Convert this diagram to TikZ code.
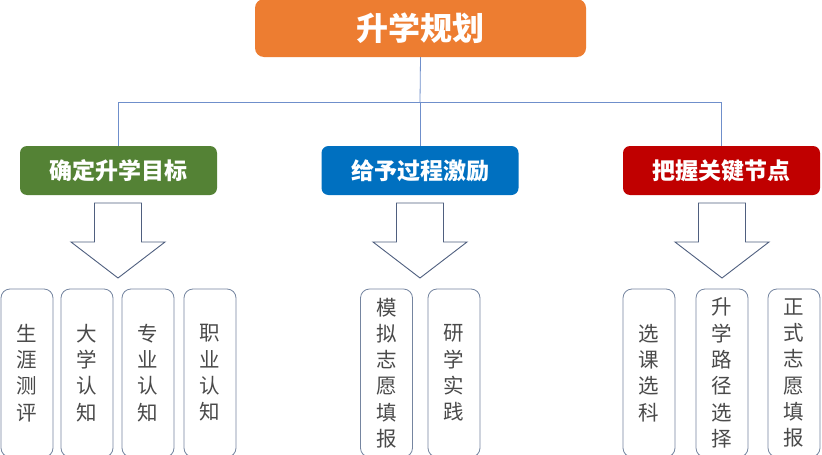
\documentclass[tikz,border=0pt]{standalone}
\usepackage{fontspec}
\setmainfont{Noto Sans CJK SC}
\definecolor{topor}{HTML}{ED7D31}
\definecolor{hgreen}{HTML}{548235}
\definecolor{hblue}{HTML}{0070C0}
\definecolor{hred}{HTML}{C00000}
\definecolor{linkc}{HTML}{6F8FCB}
\definecolor{arrc}{HTML}{4F5F7F}
\definecolor{boxc}{HTML}{7585A0}
\definecolor{txtc}{HTML}{4A4A4A}
\tikzset{
  titlebox/.style={draw=none, fill=topor, rounded corners=9pt, minimum width=331pt, minimum height=58pt, inner sep=0pt, text=white, font=\bfseries\fontsize{32pt}{35pt}\selectfont},
  headbox/.style={draw=none, fill=#1, rounded corners=7pt, minimum width=197pt, minimum height=49pt, inner sep=0pt, text=white, font=\bfseries\fontsize{23pt}{26pt}\selectfont},
  leafbox/.style={draw=boxc, line width=0.8pt, rounded corners=9pt, minimum width=52pt, minimum height=168pt, inner sep=0pt, text=txtc, align=center, font=\fontsize{20.5pt}{26.3pt}\selectfont},
  link/.style={draw=linkc, line width=0.8pt},
  bigarrow/.style={draw=arrc, fill=white, line width=0.9pt, line join=miter}
}
\newcommand{\downarrowshape}[1]{%
  \draw[bigarrow] ($(#1)+(-23.5,0)$) -- ++(0,39) -- ++(-23.5,0) -- ($(#1)+(0,75)$) -- ($(#1)+(47,39)$) -- ++(-23.5,0) -- ($(#1)+(23.5,0)$) -- cycle;}
\usetikzlibrary{calc}
\begin{document}
\begin{tikzpicture}[x=1pt,y=-1pt]
\useasboundingbox (0,0) rectangle (822,455);
\clip (0,0) rectangle (822,455);
\fill[white] (0,0) rectangle (822,455);

\node[titlebox] (top) at (420.5,28) {升学规划};

\node[headbox=hgreen] (h1) at (118.5,170.5) {确定升学目标};
\node[headbox=hblue] (h2) at (420,170.5) {给予过程激励};
\node[headbox=hred] (h3) at (721.5,170.5) {把握关键节点};

\coordinate (hub) at (420,102);
\coordinate (l1) at (118.5,102);
\coordinate (l3) at (721.5,102);
\draw[link] (top.south) -- (hub);
\draw[link] (l1) -- (l3);
\draw[link] (l1) -- (h1.north);
\draw[link] (hub) -- (h2.north);
\draw[link] (l3) -- (h3.north);

\coordinate (a1) at (118,203);
\coordinate (a2) at (420,203);
\coordinate (a3) at (722,203);
\downarrowshape{a1}
\downarrowshape{a2}
\downarrowshape{a3}

\node[leafbox] (b1) at (27,373) {生\\涯\\测\\评};
\node[leafbox] (b2) at (87,373) {大\\学\\认\\知};
\node[leafbox] (b3) at (148,373) {专\\业\\认\\知};
\node[leafbox] (b4) at (210,373) {职\\业\\认\\知};

\node[leafbox] (b5) at (386.5,373) {模\\拟\\志\\愿\\填\\报};
\node[leafbox] (b6) at (454,373) {研\\学\\实\\践};

\node[leafbox] (b7) at (649,373) {选\\课\\选\\科};
\node[leafbox] (b8) at (722,373) {升\\学\\路\\径\\选\\择};
\node[leafbox] (b9) at (794,373) {正\\式\\志\\愿\\填\\报};
\end{tikzpicture}
\end{document}
